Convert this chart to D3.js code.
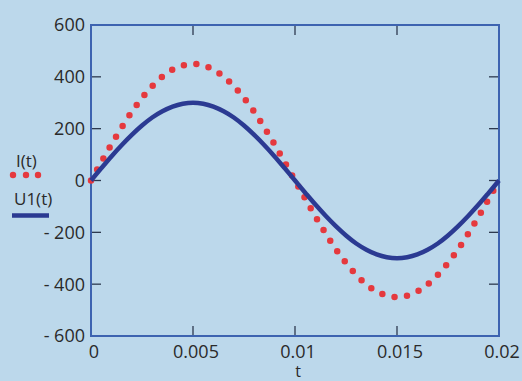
<!DOCTYPE html>
<html>
<head>
<meta charset="utf-8">
<script src="https://cdn.jsdelivr.net/npm/d3@7"></script>
<style>
  body { margin: 0; background: #bcd8eb; }
  svg { display: block; }
  text { font-family: "Open Sans", sans-serif; fill: #2a2a2a; }
</style>
</head>
<body>
<div id="chart"></div>
<script>
// time samples (s)
const tValues = [0, 0.0005, 0.001, 0.0015, 0.002, 0.0025, 0.003, 0.0035, 0.004, 0.0045,
  0.005, 0.0055, 0.006, 0.0065, 0.007, 0.0075, 0.008, 0.0085, 0.009, 0.0095,
  0.01, 0.0105, 0.011, 0.0115, 0.012, 0.0125, 0.013, 0.0135, 0.014, 0.0145,
  0.015, 0.0155, 0.016, 0.0165, 0.017, 0.0175, 0.018, 0.0185, 0.019, 0.0195, 0.02];

// I(t)
const iValues = [0, 70, 139, 204, 265, 318, 364, 401, 428, 444,
  450, 444, 428, 401, 364, 318, 265, 204, 139, 70,
  0, -70, -139, -204, -265, -318, -364, -401, -428, -444,
  -450, -444, -428, -401, -364, -318, -265, -204, -139, -70, 0];

// U1(t)
const uValues = [0, 47, 93, 136, 176, 212, 243, 267, 285, 296,
  300, 296, 285, 267, 243, 212, 176, 136, 93, 47,
  0, -47, -93, -136, -176, -212, -243, -267, -285, -296,
  -300, -296, -285, -267, -243, -212, -176, -136, -93, -47, 0];

const xTicks = [0, 0.005, 0.01, 0.015, 0.02];
const xTickLabels = ["0", "0.005", "0.01", "0.015", "0.02"];
const yTicks = [600, 400, 200, 0, -200, -400, -600];
const yTickLabels = ["600", "400", "200", "0", "- 200", "- 400", "- 600"];

const width = 522, height = 381;
const margin = { left: 91, right: 23, top: 25, bottom: 45 };

const svg = d3.select("#chart").append("svg")
  .attr("width", width)
  .attr("height", height);

svg.append("rect").attr("width", width).attr("height", height).attr("fill", "#bcd8eb");

const x = d3.scaleLinear().domain([0, 0.02]).range([margin.left, width - margin.right]);
const y = d3.scaleLinear().domain([-600, 600]).range([height - margin.bottom, margin.top]);

const tickColor = "#2d3a4f";
const frameColor = "#3d63b0";
const tickLen = 10;

// inward ticks on all four sides
const g = svg.append("g");
yTicks.filter(v => v !== 600 && v !== -600).forEach(v => {
  g.append("line").attr("x1", x(0)).attr("x2", x(0) + tickLen)
    .attr("y1", y(v)).attr("y2", y(v)).attr("stroke", tickColor).attr("stroke-width", 1.3);
  g.append("line").attr("x1", x(0.02)).attr("x2", x(0.02) - tickLen)
    .attr("y1", y(v)).attr("y2", y(v)).attr("stroke", tickColor).attr("stroke-width", 1.3);
});
xTicks.filter(v => v !== 0).forEach(v => {
  g.append("line").attr("x1", x(v)).attr("x2", x(v))
    .attr("y1", y(-600)).attr("y2", y(-600) - tickLen).attr("stroke", tickColor).attr("stroke-width", 1.3);
  g.append("line").attr("x1", x(v)).attr("x2", x(v))
    .attr("y1", y(600)).attr("y2", y(600) + tickLen).attr("stroke", tickColor).attr("stroke-width", 1.3);
});

// frame
svg.append("rect")
  .attr("x", x(0)).attr("y", y(600))
  .attr("width", x(0.02) - x(0)).attr("height", y(-600) - y(600))
  .attr("fill", "none").attr("stroke", frameColor).attr("stroke-width", 2);

// y tick labels
svg.selectAll(".ylab").data(yTicks).enter().append("text")
  .attr("class", "ylab")
  .attr("x", x(0) - 6)
  .attr("y", d => y(d))
  .attr("dy", "0.36em")
  .attr("text-anchor", "end")
  .style("font-size", "18px")
  .text((d, i) => yTickLabels[i]);

// x tick labels
svg.selectAll(".xlab").data(xTicks).enter().append("text")
  .attr("class", "xlab")
  .attr("x", d => x(d) + 3)
  .attr("y", y(-600) + 22)
  .attr("text-anchor", "middle")
  .style("font-size", "18px")
  .text((d, i) => xTickLabels[i]);

svg.append("text")
  .attr("x", x(0.01) + 3)
  .attr("y", y(-600) + 41)
  .attr("text-anchor", "middle")
  .style("font-size", "16px")
  .text("t");

// curves
const line = d3.line().x((d, i) => x(tValues[i])).y(d => y(d)).curve(d3.curveCatmullRom);

svg.append("path")
  .datum(iValues)
  .attr("d", line)
  .attr("fill", "none")
  .attr("stroke", "#e5393e")
  .attr("stroke-width", 6.5)
  .attr("stroke-linecap", "round")
  .attr("stroke-dasharray", "0 12.6");

svg.append("path")
  .datum(uValues)
  .attr("d", line)
  .attr("fill", "none")
  .attr("stroke", "#2b3a92")
  .attr("stroke-width", 4.5);

// legend
svg.append("text").attr("x", 16).attr("y", 167).style("font-size", "17px").text("I(t)");
svg.selectAll(".ldot").data([13, 26, 38]).enter().append("circle")
  .attr("cx", d => d).attr("cy", 175).attr("r", 3.2).attr("fill", "#e5393e");
svg.append("text").attr("x", 14).attr("y", 205).style("font-size", "17px").text("U1(t)");
svg.append("line").attr("x1", 12).attr("x2", 49).attr("y1", 215.5).attr("y2", 215.5)
  .attr("stroke", "#2b3a92").attr("stroke-width", 4.5);
</script>
</body>
</html>
